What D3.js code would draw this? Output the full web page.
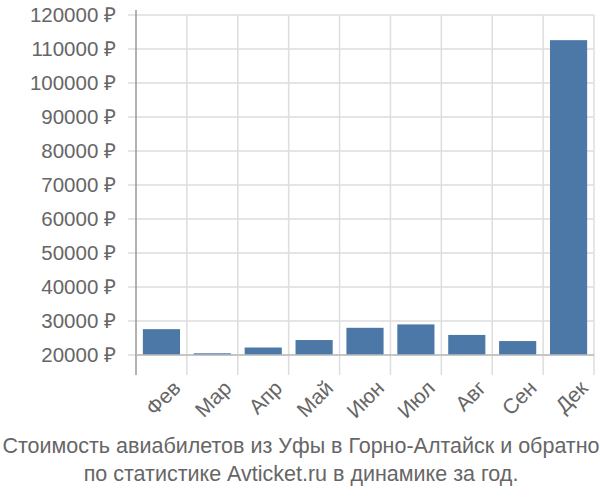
<!DOCTYPE html>
<html lang="en">
<head>
<meta charset="UTF-8"/>
<script src="https://d3js.org/d3.v7.min.js"></script>
<style>
	body{margin:0;}
	text{font-family:"Liberation Sans", Arial, sans-serif; fill:#666;}
	.grid line{stroke:#ddd; stroke-width:1.5;}
	.bar{fill:#4c78a8;}
</style>
</head>
<body>
<div id="chart"></div>
<script>
var months = ["Фев","Мар","Апр","Май","Июн","Июл","Авг","Сен","Дек"];
var prices = [27600, 20500, 22200, 24400, 28000, 29000, 25900, 24100, 112600];
var yTicks = [20000,30000,40000,50000,60000,70000,80000,90000,100000,110000,120000];

var w = 600, h = 500;
var padLeft = 136, padRight = 594, padTop = 15, base = 355, bottom = 375;

var svg = d3.select("#chart").append("svg").attr("width", w).attr("height", h);

var xScale = d3.scaleBand().domain(months).range([padLeft, padRight]).paddingInner(0.27).paddingOuter(0.135);
var yScale = d3.scaleLinear().domain([20000, 120000]).range([base, padTop]);

// grid
var g = svg.append("g").attr("class","grid");
g.selectAll(".h").data(yTicks).enter().append("line")
	.attr("x1", padLeft - 8).attr("x2", padRight)
	.attr("y1", function(d){return yScale(d);}).attr("y2", function(d){return yScale(d);});
var step = xScale.step();
g.selectAll(".v").data(months).enter().append("line")
	.attr("x1", function(d,i){return padLeft + step*(i+1);})
	.attr("x2", function(d,i){return padLeft + step*(i+1);})
	.attr("y1", padTop).attr("y2", bottom);

svg.selectAll(".bar").data(prices).enter().append("rect")
	.attr("class","bar")
	.attr("x", function(d,i){return xScale(months[i]);})
	.attr("width", xScale.bandwidth())
	.attr("y", function(d){return yScale(d);})
	.attr("height", function(d){return base - yScale(d);});

svg.append("line").attr("x1", padLeft).attr("x2", padLeft).attr("y1", padTop - 5).attr("y2", bottom)
	.attr("stroke","#999").attr("stroke-width",1.5);
svg.append("line").attr("x1", padLeft).attr("x2", padRight).attr("y1", base).attr("y2", base)
	.attr("stroke","#bbb").attr("stroke-width",1.5);

svg.selectAll(".yl").data(yTicks).enter().append("text")
	.attr("x", padLeft - 20).attr("y", function(d){return yScale(d) + 7;})
	.attr("text-anchor","end").style("font-size","20.5px")
	.text(function(d){return d + " ₽";});

svg.selectAll(".xl").data(months).enter().append("text")
	.attr("transform", function(d){return "translate(" + (xScale(d) + xScale.bandwidth()/2 + 10) + "," + (bottom + 4) + ") rotate(-45)";})
	.attr("text-anchor","end").attr("dy","0.7em").style("font-size","21px")
	.text(function(d){return d;});

svg.append("text").attr("x", 301).attr("y", 453).attr("text-anchor","middle").style("font-size","21.5px")
	.text("Стоимость авиабилетов из Уфы в Горно-Алтайск и обратно");
svg.append("text").attr("x", 301).attr("y", 481).attr("text-anchor","middle").style("font-size","21.5px")
	.text("по статистике Avticket.ru в динамике за год.");
</script>
</body>
</html>
